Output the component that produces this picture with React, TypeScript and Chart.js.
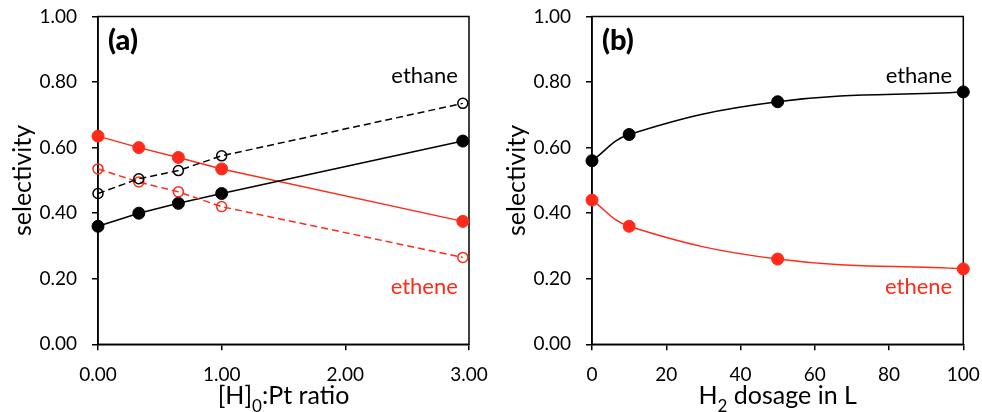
import React, { useEffect, useRef } from "react";
import { Chart, registerables } from "chart.js";
Chart.register(...registerables);

// ---- Panel (a) data ----
const ratioX = [0, 0.33, 0.65, 1.0, 2.95];
const ethaneFilledA = [0.36, 0.40, 0.43, 0.46, 0.62];
const etheneFilledA = [0.635, 0.60, 0.57, 0.535, 0.375];
const ethaneOpenA = [0.46, 0.505, 0.53, 0.575, 0.735];
const etheneOpenA = [0.535, 0.495, 0.465, 0.42, 0.265];

// ---- Panel (b) data ----
const dosageX = [0, 10, 50, 100];
const ethaneB = [0.56, 0.64, 0.74, 0.77];
const etheneB = [0.44, 0.36, 0.26, 0.23];

// ---- ticks ----
const yTickValues = [0, 0.2, 0.4, 0.6, 0.8, 1.0];
const xTickValuesA = [0, 1, 2, 3];
const xTickValuesB = [0, 20, 40, 60, 80, 100];

// x-axis titles as [before, subscript, after]
const xTitleA = ["[H]", "0", ":Pt ratio"];
const xTitleB = ["H", "2", " dosage in L"];

const RED = "#ff2a1a";
const BLACK = "#000000";
const FONT = "Lato";

const pts = (xs: number[], ys: number[]) => xs.map((x, i) => ({ x, y: ys[i] }));

const framePlugin = {
  id: "frame",
  beforeDatasetsDraw(chart: any) {
    const { ctx, chartArea: a } = chart;
    ctx.save();
    ctx.strokeStyle = "#000";
    ctx.lineWidth = 1.5;
    ctx.strokeRect(a.left, a.top, a.right - a.left, a.bottom - a.top);
    ctx.restore();
  },
};

function makeLabelPlugin(panel: string, labelX: number, xTitle: string[]) {
  return {
    id: "labels" + panel,
    afterDatasetsDraw(chart: any) {
      const { ctx, chartArea: a, scales } = chart;
      ctx.save();
      ctx.textBaseline = "middle";
      ctx.textAlign = "left";
      ctx.fillStyle = "#000";
      ctx.font = `900 29px ${FONT}`;
      ctx.fillText(panel, a.left + 10, a.top + 24);
      ctx.font = `22px ${FONT}`;
      ctx.textAlign = "right";
      const x = scales.x.getPixelForValue(labelX);
      ctx.fillStyle = "#000";
      ctx.fillText("ethane", x, scales.y.getPixelForValue(0.82));
      ctx.fillStyle = RED;
      ctx.fillText("ethene", x, scales.y.getPixelForValue(0.175));

      // x-axis title with subscript
      const mainFont = `25px ${FONT}`;
      const subFont = `17px ${FONT}`;
      ctx.fillStyle = "#000";
      ctx.textAlign = "left";
      ctx.textBaseline = "alphabetic";
      ctx.font = mainFont;
      const w0 = ctx.measureText(xTitle[0]).width;
      const w2 = ctx.measureText(xTitle[2]).width;
      ctx.font = subFont;
      const w1 = ctx.measureText(xTitle[1]).width;
      const total = w0 + w1 + w2;
      let cx = (a.left + a.right) / 2 - total / 2;
      const base = a.bottom + 60;
      ctx.font = mainFont;
      ctx.fillText(xTitle[0], cx, base);
      cx += w0;
      ctx.font = subFont;
      ctx.fillText(xTitle[1], cx, base + 7.5);
      cx += w1;
      ctx.font = mainFont;
      ctx.fillText(xTitle[2], cx, base);
      ctx.restore();
    },
  };
}

function makeOptions(
  xMin: number,
  xMax: number,
  xTicks: number[],
  xFmt: (v: number) => string,
  yAxisWidth: number,
  yTitlePad: number,
  rightPad: number
): any {
  return {
    responsive: false,
    animation: false,
    layout: { padding: { left: 0, right: rightPad, top: 16.5, bottom: 0 } },
    plugins: { legend: { display: false }, tooltip: { enabled: false } },
    elements: { line: { borderWidth: 1.5 } },
    scales: {
      x: {
        type: "linear",
        min: xMin,
        max: xMax,
        afterBuildTicks: (s: any) => {
          s.ticks = xTicks.map((v) => ({ value: v }));
        },
        afterFit: (s: any) => {
          s.height = 67.7;
          s.paddingLeft = 0;
          s.paddingRight = 0;
        },
        ticks: {
          color: "#000",
          padding: 13,
          maxRotation: 0,
          font: { family: FONT, size: 19 },
          callback: (v: any) => xFmt(Number(v)),
        },
        grid: { drawOnChartArea: false, drawTicks: true, tickLength: 6, color: "#000", lineWidth: 1.5 },
        border: { display: true, color: "#000", width: 1.5 },
        title: { display: false },
      },
      y: {
        type: "linear",
        min: 0,
        max: 1,
        afterBuildTicks: (s: any) => {
          s.ticks = yTickValues.map((v) => ({ value: v }));
        },
        afterFit: (s: any) => {
          s.width = yAxisWidth;
          s.paddingTop = 0;
          s.paddingBottom = 0;
        },
        ticks: {
          color: "#000",
          padding: 15,
          font: { family: FONT, size: 19 },
          callback: (v: any) => Number(v).toFixed(2),
        },
        grid: { drawOnChartArea: false, drawTicks: true, tickLength: 6, color: "#000", lineWidth: 1.5 },
        border: { display: true, color: "#000", width: 1.5 },
        title: {
          display: true,
          text: "selectivity",
          color: "#000",
          font: { family: FONT, size: 25 },
          padding: { top: yTitlePad, bottom: 0 },
        },
      },
    },
  };
}

function filled(data: any[], color: string, tension: number) {
  return {
    data,
    borderColor: color,
    backgroundColor: color,
    pointBackgroundColor: color,
    pointBorderColor: color,
    pointRadius: 6,
    pointBorderWidth: 1,
    borderWidth: 1.5,
    tension,
    fill: false,
    clip: false,
  };
}

function open(data: any[], color: string) {
  return {
    data,
    borderColor: color,
    backgroundColor: "rgba(0,0,0,0)",
    pointBackgroundColor: "rgba(0,0,0,0)",
    pointBorderColor: color,
    pointRadius: 5,
    pointBorderWidth: 1.5,
    borderWidth: 1.5,
    borderDash: [7, 4],
    tension: 0,
    fill: false,
    clip: false,
  };
}

export default function App() {
  const refA = useRef<HTMLCanvasElement>(null);
  const refB = useRef<HTMLCanvasElement>(null);

  useEffect(() => {
    const chartA = new Chart(refA.current!, {
      type: "line",
      data: {
        datasets: [
          open(pts(ratioX, ethaneOpenA), BLACK),
          open(pts(ratioX, etheneOpenA), RED),
          filled(pts(ratioX, ethaneFilledA), BLACK, 0),
          filled(pts(ratioX, etheneFilledA), RED, 0),
        ] as any,
      },
      options: makeOptions(0, 3, xTickValuesA, (v) => v.toFixed(2), 98, 8, 21),
      plugins: [framePlugin, makeLabelPlugin("(a)", 2.91, xTitleA)],
    });
    const chartB = new Chart(refB.current!, {
      type: "line",
      data: {
        datasets: [
          filled(pts(dosageX, ethaneB), BLACK, 0.4),
          filled(pts(dosageX, etheneB), RED, 0.4),
        ] as any,
      },
      options: makeOptions(0, 100, xTickValuesB, (v) => String(v), 102, 12, 18.7),
      plugins: [framePlugin, makeLabelPlugin("(b)", 97, xTitleB)],
    });
    return () => {
      chartA.destroy();
      chartB.destroy();
    };
  }, []);

  return (
    <div style={{ position: "absolute", left: 0, top: 0, width: 982, height: 412, background: "#fff" }}>
      <canvas ref={refA} width={490} height={412} style={{ position: "absolute", left: 0, top: 0 }} />
      <canvas ref={refB} width={492} height={412} style={{ position: "absolute", left: 490, top: 0 }} />
    </div>
  );
}
